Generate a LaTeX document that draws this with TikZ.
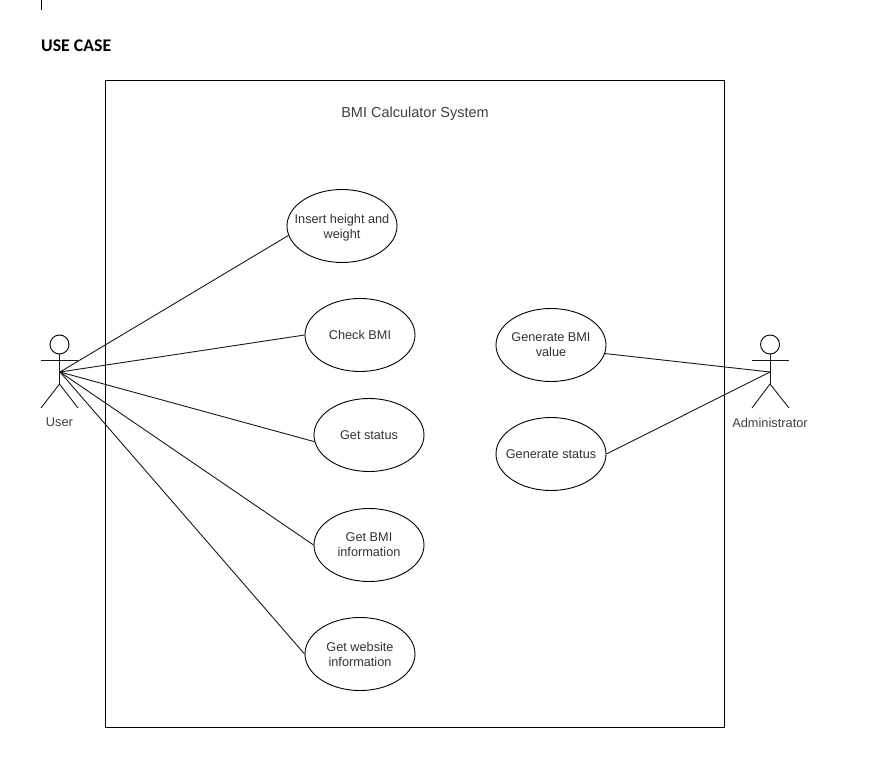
\documentclass[tikz,border=0pt]{standalone}
\usepackage{fontspec}
\setmainfont{Liberation Sans}
\newfontfamily\headfont{Carlito}
\usetikzlibrary{shapes.geometric}
\tikzset{
  uc/.style={draw=black,line width=0.9pt,ellipse,minimum width=110pt,minimum height=73pt,inner sep=-14pt,align=center,font=\fontsize{12.7}{15}\selectfont,text=black!80,text depth=0pt},
  lbl/.style={font=\fontsize{12.8}{15}\selectfont,text=black!75,inner sep=0pt},
  ln/.style={draw=black!90,line width=0.9pt},
}
\begin{document}
\begin{tikzpicture}[x=1pt,y=-1pt]
\useasboundingbox (0,0) rectangle (882,783);
\fill[white] (0,0) rectangle (882,783);
\coordinate (tickA) at (41.5,0);
\coordinate (tickB) at (41.5,10);
\draw[black,line width=0.8pt] (tickA) -- (tickB);
\node[anchor=west,inner sep=0pt,font=\headfont\bfseries\fontsize{17.8}{19}\selectfont] (title) at (41,45.5) {USE CASE};
\node[draw=black,line width=0.9pt,minimum width=619pt,minimum height=646.5pt,inner sep=0pt,anchor=north west] (sys) at (105,80.5) {};
\node[font=\fontsize{14.5}{17}\selectfont,text=black!75,inner sep=0pt] (sysl) at (415,113.5) {BMI Calculator System};
\node[uc] (a) at (342,226) {Insert height and\\weight};
\node[uc] (b) at (360,335) {Check BMI};
\node[uc] (c) at (369,435) {Get status};
\node[uc] (d) at (369,545) {Get BMI\\information};
\node[uc] (e) at (360,654) {Get website\\information};
\node[uc] (f) at (551,345) {Generate BMI\\value};
\node[uc] (g) at (551,454) {Generate status};
% User
\node[draw=black,line width=0.9pt,circle,minimum size=19pt,inner sep=0pt] (uh) at (59.5,344.5) {};
\coordinate (uhip) at (59.5,384);
\coordinate (uhub) at (60,372);
\coordinate (ual) at (41,360);
\coordinate (uar) at (78,360);
\coordinate (ull) at (41,408);
\coordinate (ulr) at (78,408);
\draw[ln] (uh.south) -- (uhip);
\draw[ln] (ual) -- (uar);
\draw[ln] (ull) -- (uhip) -- (ulr);
\node[lbl] (ul) at (59.5,422.5) {User};
% Administrator
\node[draw=black,line width=0.9pt,circle,minimum size=19pt,inner sep=0pt] (ah) at (770,344.5) {};
\coordinate (ahip) at (770,384);
\coordinate (ahub) at (770,372);
\coordinate (aal) at (752,360);
\coordinate (aar) at (789,360);
\coordinate (all) at (752,408);
\coordinate (alr) at (789,408);
\draw[ln] (ah.south) -- (ahip);
\draw[ln] (aal) -- (aar);
\draw[ln] (all) -- (ahip) -- (alr);
\node[lbl] (al) at (770,422.5) {Administrator};
% connectors
\draw[ln] (uhub) -- (a.190);
\draw[ln] (uhub) -- (b.west);
\draw[ln] (uhub) -- (c.187);
\draw[ln] (uhub) -- (d.west);
\draw[ln] (uhub) -- (e.west);
\draw[ln] (ahub) -- (f.351);
\draw[ln] (ahub) -- (g.east);
\end{tikzpicture}
\end{document}
